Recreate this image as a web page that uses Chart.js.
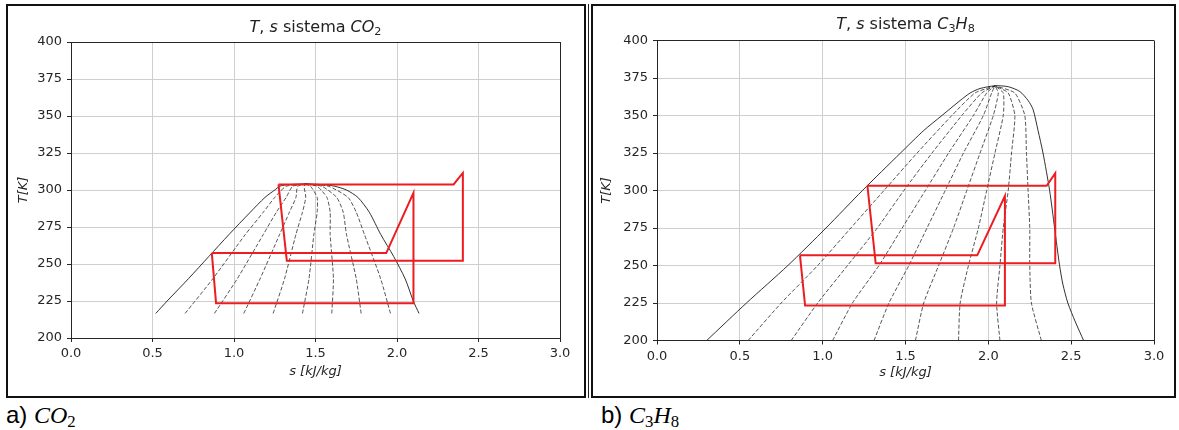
<!DOCTYPE html>
<html><head><meta charset="utf-8">
<script src="https://cdn.jsdelivr.net/npm/chart.js@4.4.1/dist/chart.umd.min.js"></script>
<style>
html,body{margin:0;padding:0;background:#fff;width:1179px;height:430px;overflow:hidden;position:relative;font-family:"DejaVu Sans",sans-serif;}
.panel{position:absolute;border:2px solid #111;box-sizing:border-box;}
#p1{left:6px;top:4px;width:580px;height:394px;}
#p2{left:591px;top:4px;width:585px;height:394px;}
#sep{position:absolute;left:588px;top:4px;width:1px;height:394px;background:#222;}
canvas{position:absolute;}
#c1{left:9px;top:7px;}
#c2{left:594px;top:7px;}
.title{position:absolute;font-family:"DejaVu Sans",sans-serif;font-size:16px;color:#222;white-space:nowrap;transform:translate(-50%,-50%);line-height:1;}
.title sub{font-size:70%;vertical-align:-3px;}
.cap{position:absolute;font-family:"Liberation Sans",Arial,sans-serif;font-size:24px;color:#000;white-space:nowrap;}
.cap i{font-family:"Liberation Serif",serif;}
.cap sub{font-size:70%;vertical-align:-4px;font-family:"Liberation Serif",serif;}
</style></head>
<body>
<div class="panel" id="p1"></div>
<div id="sep"></div>
<div class="panel" id="p2"></div>
<canvas id="c1" width="574" height="388" style="width:574px;height:388px"></canvas>
<canvas id="c2" width="579" height="388" style="width:579px;height:388px"></canvas>
<div class="title" style="left:315.5px;top:28px;"><i>T</i>, <i>s</i> sistema <i>CO</i><sub>2</sub></div>
<div class="title" style="left:905.5px;top:25px;"><i>T</i>, <i>s</i> sistema <i>C</i><sub>3</sub><i>H</i><sub>8</sub></div>
<div class="cap" style="left:6px;top:401px;">a) <i>CO</i><sub>2</sub></div>
<div class="cap" style="left:601px;top:401px;">b) <i>C</i><sub>3</sub><i>H</i><sub>8</sub></div>
<script>
// ---- tick definitions ----
const xTicks = [0, 0.5, 1, 1.5, 2, 2.5, 3];
const xTickLabels = ['0.0', '0.5', '1.0', '1.5', '2.0', '2.5', '3.0'];
const yTicks = [200, 225, 250, 275, 300, 325, 350, 375, 400];
const yTickLabels = ['200', '225', '250', '275', '300', '325', '350', '375', '400'];

// ---- CO2: saturation dome ----
const co2DomeS = [0.52, 0.59, 0.72, 0.845, 0.97, 1.10, 1.19, 1.25, 1.28, 1.32, 1.44, 1.56, 1.62, 1.69, 1.76, 1.83, 1.90, 1.98, 2.05, 2.10, 2.135];
const co2DomeT = [216.6, 225, 240, 255, 270, 285, 295, 300, 302.5, 303.5, 304.1, 303.5, 302.5, 300, 295, 285, 270, 255, 240, 225, 216.6];
// ---- CO2: constant-quality lines ----
const co2QualT = [216.6, 240, 270, 285, 295, 302.5, 304.1];
const co2QualS = [
  [0.70, 0.87, 1.07, 1.18, 1.25, 1.32, 1.44],
  [0.88, 1.02, 1.18, 1.26, 1.32, 1.36, 1.44],
  [1.06, 1.16, 1.28, 1.34, 1.38, 1.39, 1.44],
  [1.24, 1.31, 1.38, 1.42, 1.44, 1.43, 1.44],
  [1.42, 1.46, 1.49, 1.51, 1.51, 1.47, 1.44],
  [1.60, 1.61, 1.59, 1.59, 1.57, 1.51, 1.44],
  [1.78, 1.75, 1.69, 1.67, 1.63, 1.54, 1.44],
  [1.96, 1.90, 1.80, 1.75, 1.70, 1.58, 1.44]
];
// ---- CO2: cycles (red) ----
const co2HighS = [1.273, 2.347, 2.404, 2.404, 1.324, 1.273];
const co2HighT = [303.8, 303.8, 311.5, 252.2, 252.2, 303.8];
const co2LowS = [0.864, 1.934, 2.101, 2.101, 0.89, 0.864];
const co2LowT = [257.4, 257.4, 298.0, 223.5, 223.5, 257.4];

// ---- C3H8: saturation dome ----
const c3DomeS = [0.30, 0.54, 0.79, 1.02, 1.24, 1.47, 1.61, 1.72, 1.83, 1.89, 1.95, 2.04, 2.12, 2.19, 2.24, 2.27, 2.30, 2.33, 2.37, 2.40, 2.43, 2.45, 2.48, 2.525, 2.575];
const c3DomeT = [200, 225, 250, 275, 300, 325, 340, 350, 360, 365, 368, 369.8, 369.2, 366, 360, 354, 340, 325, 300, 275, 250, 237.5, 225, 212.5, 200];
// ---- C3H8: constant-quality lines ----
const c3QualT = [200, 225, 250, 275, 300, 325, 350, 365, 369.8];
const c3QualS = [
  [0.55, 0.75, 0.97, 1.17, 1.37, 1.57, 1.78, 1.92, 2.04],
  [0.81, 0.97, 1.15, 1.33, 1.49, 1.66, 1.84, 1.96, 2.04],
  [1.06, 1.18, 1.34, 1.48, 1.62, 1.76, 1.91, 1.99, 2.04],
  [1.31, 1.40, 1.52, 1.63, 1.74, 1.85, 1.97, 2.02, 2.04],
  [1.56, 1.61, 1.70, 1.79, 1.87, 1.95, 2.03, 2.06, 2.04],
  [1.82, 1.83, 1.88, 1.94, 1.99, 2.04, 2.09, 2.09, 2.04],
  [2.07, 2.05, 2.07, 2.09, 2.12, 2.14, 2.16, 2.12, 2.04],
  [2.32, 2.26, 2.25, 2.25, 2.24, 2.23, 2.22, 2.16, 2.04]
];
// ---- C3H8: cycles (red) ----
const c3HighS = [1.27, 2.352, 2.404, 2.404, 1.32, 1.27];
const c3HighT = [303.2, 303.2, 311.5, 251.5, 251.5, 303.2];
const c3LowS = [0.863, 1.933, 2.10, 2.10, 0.894, 0.863];
const c3LowT = [256.8, 256.8, 296.3, 223.3, 223.3, 256.8];

const RED = 'rgb(236,28,32)';
const DOME = '#1a1a1a';
const DASHC = '#2a2a2a';
const GRID = '#cfcfcf';
const SPINE = '#262626';
const TXT = '#262626';
const FONT = 'DejaVu Sans';

function pts(sArr, tArr) { return sArr.map((s, i) => ({ x: s, y: tArr[i] })); }
function line(sArr, tArr, color, width, dash, tension, order) {
  return { data: pts(sArr, tArr), showLine: true, pointRadius: 0, borderColor: color,
           borderWidth: width, borderDash: dash, tension: tension, order: order, fill: false };
}

function build(id, o) {
  const ds = [];
  ds.push(line(o.highS, o.highT, RED, 2, [], 0, 0));
  ds.push(line(o.lowS, o.lowT, RED, 2, [], 0, 0));
  o.qualS.forEach(r => ds.push(line(r, o.qualT, DASHC, 0.8, [4, 2], 0.2, 2)));
  ds.push(line(o.domeS, o.domeT, DOME, 0.9, [], 0.25, 1));
  new Chart(document.getElementById(id), {
    type: 'scatter',
    data: { datasets: ds },
    options: {
      responsive: false, animation: false, devicePixelRatio: 1,
      layout: { padding: o.padding },
      plugins: { legend: { display: false }, tooltip: { enabled: false }, title: { display: false } },
      scales: {
        x: {
          type: 'linear', min: 0, max: 3, position: 'bottom',
          afterBuildTicks: s => { s.ticks = xTicks.map(v => ({ value: v })); },
          afterFit: s => { s.height = o.xH; },
          ticks: { callback: v => xTickLabels[xTicks.indexOf(v)], color: TXT, font: { family: FONT, size: 13 },
                   padding: 4, maxRotation: 0, autoSkip: false },
          grid: { color: c => (c.tick && (c.tick.value === 3 || c.tick.value === 0)) ? SPINE : GRID,
                  lineWidth: 1, tickColor: SPINE, tickLength: 4 },
          border: { display: true, color: SPINE, width: 1 },
          title: { display: true, text: 's [kJ/kg]', color: TXT, font: { family: FONT, size: 13, style: 'italic' },
                   padding: { top: 0, bottom: o.xTitlePad } }
        },
        y: {
          type: 'linear', min: 200, max: 400, position: 'left',
          afterBuildTicks: s => { s.ticks = yTicks.map(v => ({ value: v })); },
          afterFit: s => { s.width = o.yW; },
          ticks: { callback: v => yTickLabels[yTicks.indexOf(v)], color: TXT, font: { family: FONT, size: 13 },
                   padding: 5, autoSkip: false },
          grid: { color: c => (c.tick && (c.tick.value === 400 || c.tick.value === 200)) ? SPINE : GRID,
                  lineWidth: 1, tickColor: SPINE, tickLength: 4 },
          border: { display: true, color: SPINE, width: 1 },
          title: { display: true, text: 'T[K]', color: TXT, font: { family: FONT, size: 13, style: 'italic' },
                   padding: { top: o.yTitlePad, bottom: 0 } }
        }
      }
    }
  });
}

build('c1', {
  domeS: co2DomeS, domeT: co2DomeT, qualS: co2QualS, qualT: co2QualT,
  highS: co2HighS, highT: co2HighT, lowS: co2LowS, lowT: co2LowT,
  padding: { left: 0, top: 35, right: 23, bottom: 15 }, yW: 62, xH: 42, xTitlePad: 1, yTitlePad: 7
});
build('c2', {
  domeS: c3DomeS, domeT: c3DomeT, qualS: c3QualS, qualT: c3QualT,
  highS: c3HighS, highT: c3HighT, lowS: c3LowS, lowT: c3LowT,
  padding: { left: 0, top: 33.5, right: 19, bottom: 14.5 }, yW: 63, xH: 40, xTitlePad: 0.5, yTitlePad: 5
});
</script>
</body></html>
